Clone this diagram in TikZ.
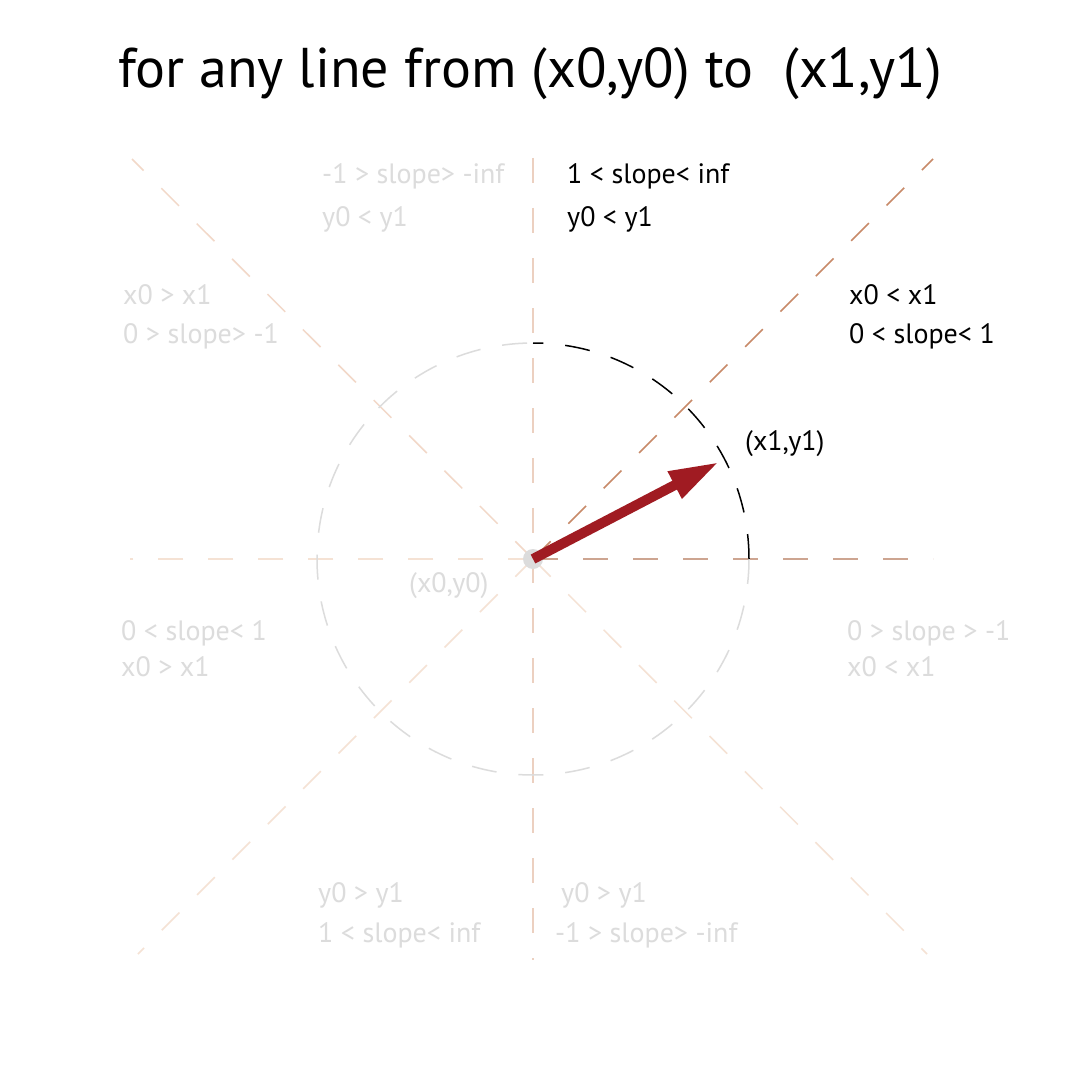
\documentclass[tikz,border=0pt]{standalone}
\usepackage{fontspec}
\setmainfont{PT Sans}
\usepackage{tikz}
\usetikzlibrary{arrows.meta}

\definecolor{arrowred}{RGB}{160,27,34}
\definecolor{rustline}{RGB}{200,138,105}
\definecolor{rustlight}{RGB}{205,165,145}
\definecolor{paleA}{RGB}{236,208,192}
\definecolor{paleB}{RGB}{245,226,212}
\definecolor{paleC}{RGB}{242,216,200}
\definecolor{fadegray}{RGB}{220,220,220}

\tikzset{
  axisline/.style={line width=1.5pt,dash pattern=on 25pt off 25pt},
  ringline/.style={line width=1.5pt,dash pattern=on 25pt off 22pt},
  lbl/.style={anchor=base west,inner sep=0pt,font=\fontsize{28}{32}\selectfont},
  fadelbl/.style={lbl,text=fadegray},
}

\begin{document}
\begin{tikzpicture}[x=1pt,y=-1pt]
    \useasboundingbox[fill=white] (0,0) rectangle (1067,1067);

    % end points of the guide lines
    \coordinate (o) at (533,559);
    \coordinate (eE) at (933,559);
    \coordinate (eW) at (130,559);
    \coordinate (eN) at (533,158);
    \coordinate (eS) at (533,960);
    \coordinate (eNE) at (933,159);
    \coordinate (eNW) at (132,159);
    \coordinate (eSW) at (138,954);
    \coordinate (eSE) at (927,954);
    \coordinate (p1) at (719,462);

    \draw[axisline,paleB] (o) -- (eW);
    \draw[axisline,rustlight] (o) -- (eE);
    \draw[axisline,paleA] (eN) -- (eS);
    \draw[axisline,rustline] (o) -- (eNE);
    \draw[axisline,paleC] (o) -- (eNW);
    \draw[axisline,paleB] (o) -- (eSW);
    \draw[axisline,paleB] (o) -- (eSE);

    \draw[ringline,fadegray] ([xshift=216pt]o) arc[start angle=0,end angle=270,radius=216];
    \draw[ringline,black] ([xshift=216pt]o) arc[start angle=0,end angle=-90,radius=216];

    \node[circle,fill=fadegray,minimum size=20pt,inner sep=0pt] (c0) at (o) {};
    \draw[arrowred,line width=10pt,-{Triangle[length=50pt,width=28pt]}] (c0.center) -- (p1);

    \node[anchor=base,inner sep=0pt,font=\fontsize{56}{60}\selectfont] (title) at (530,88)
      {for any line from (x0,y0) to\ \ (x1,y1)};

    \node[lbl] (q1a) at (567,184) {1 < slope< inf};
    \node[lbl] (q1b) at (567,226) {y0 < y1};
    \node[lbl] (q2a) at (849,304) {x0 < x1};
    \node[lbl] (q2b) at (849,343) {0 < slope< 1};
    \node[lbl] (pt1) at (745,450) {(x1,y1)};

    \node[fadelbl] (q3a) at (322,184) {-1 > slope> -inf};
    \node[fadelbl] (q3b) at (322,226) {y0 < y1};
    \node[fadelbl] (q4a) at (123,304) {x0 > x1};
    \node[fadelbl] (q4b) at (123,343) {0 > slope> -1};
    \node[fadelbl] (pt0) at (409,592) {(x0,y0)};
    \node[fadelbl] (q5a) at (121,640) {0 < slope< 1};
    \node[fadelbl] (q5b) at (121,676) {x0 > x1};
    \node[fadelbl] (q6a) at (847,640) {0 > slope > -1};
    \node[fadelbl] (q6b) at (847,676) {x0 < x1};
    \node[fadelbl] (q7a) at (318,902) {y0 > y1};
    \node[fadelbl] (q7b) at (318,942) {1 < slope< inf};
    \node[fadelbl] (q8a) at (561,902) {y0 > y1};
    \node[fadelbl] (q8b) at (555,942) {-1 > slope> -inf};
  \end{tikzpicture}
\end{document}
